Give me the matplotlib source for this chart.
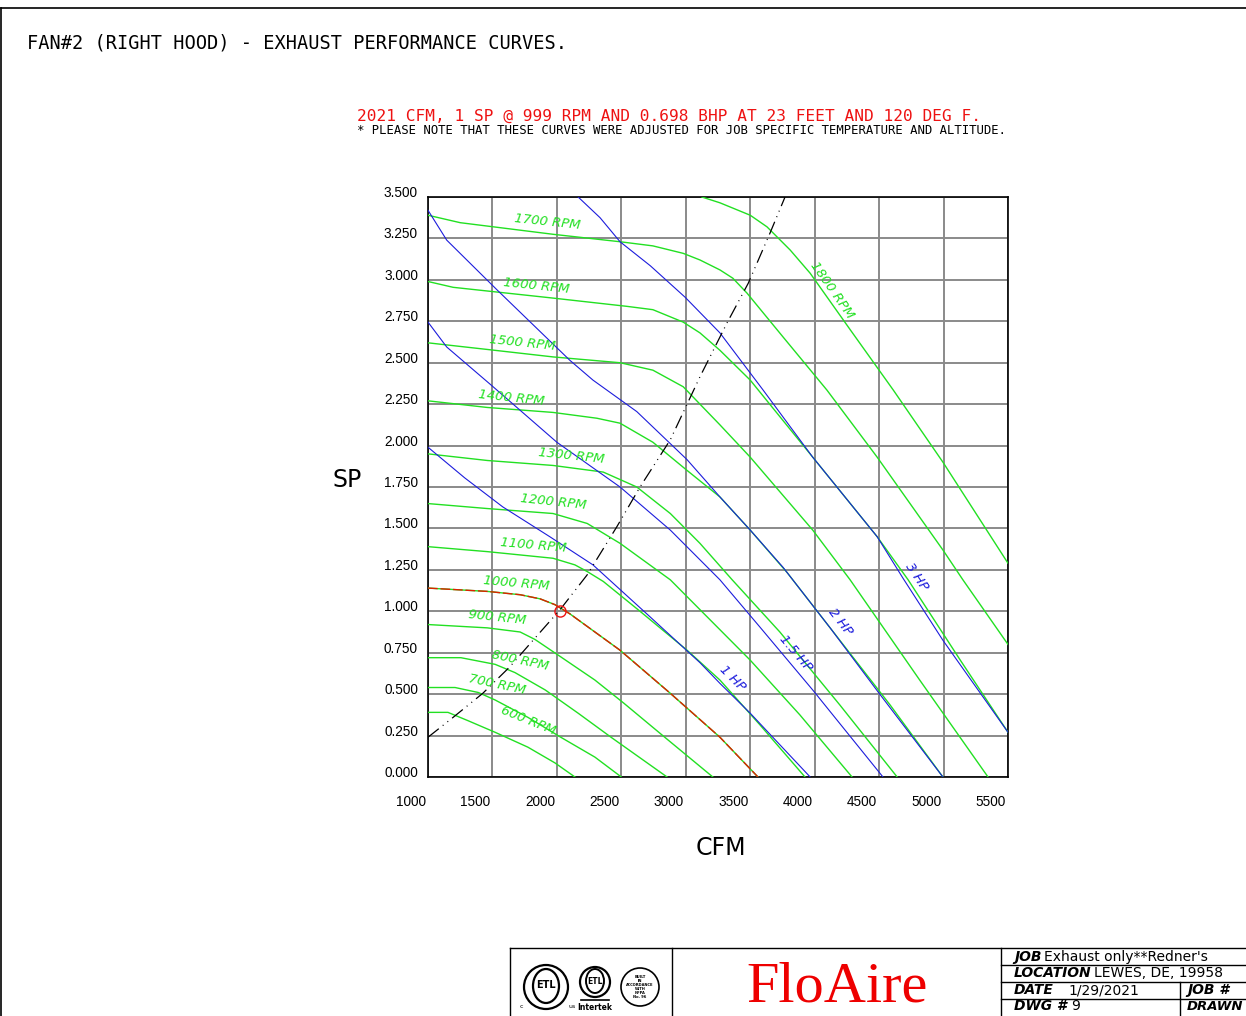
import matplotlib
matplotlib.use("Agg")
import matplotlib.pyplot as plt
from matplotlib.patches import Circle, Ellipse
from matplotlib.transforms import offset_copy

# fan curves (CFM, SP)
rpm_600_cfm = [1000, 1155, 1310, 1520, 1775, 1985, 2140]
rpm_600_sp = [0.39, 0.39, 0.34, 0.27, 0.18, 0.085, 0.0]
rpm_700_cfm = [1000, 1210, 1390, 1520, 1775, 2030, 2295, 2500]
rpm_700_sp = [0.54, 0.54, 0.51, 0.465, 0.36, 0.24, 0.12, 0.0]
rpm_800_cfm = [1000, 1255, 1520, 1675, 1910, 2165, 2420, 2855]
rpm_800_sp = [0.72, 0.72, 0.68, 0.63, 0.525, 0.385, 0.24, 0.0]
rpm_900_cfm = [1000, 1460, 1715, 1830, 2030, 2295, 2520, 2860, 3210]
rpm_900_sp = [0.92, 0.90, 0.875, 0.83, 0.725, 0.585, 0.445, 0.225, 0.0]
rpm_1000_cfm = [1000, 1460, 1715, 1870, 1985, 2100, 2490, 2880, 3265, 3560]
rpm_1000_sp = [1.14, 1.12, 1.10, 1.075, 1.04, 0.985, 0.765, 0.505, 0.24, 0.0]
rpm_1100_cfm = [1000, 1460, 1970, 2140, 2235, 2360, 2645, 3010, 3265, 3575, 3925]
rpm_1100_sp = [1.39, 1.36, 1.32, 1.28, 1.24, 1.18, 1.0, 0.765, 0.585, 0.315, 0.0]
rpm_1200_cfm = [1000, 1460, 1970, 2235, 2490, 2880, 3110, 3500, 3885, 4290]
rpm_1200_sp = [1.65, 1.62, 1.59, 1.53, 1.41, 1.19, 1.01, 0.705, 0.375, 0.0]
rpm_1300_cfm = [1000, 1460, 1970, 2360, 2620, 2880, 3110, 3360, 3730, 4195, 4640]
rpm_1300_sp = [1.95, 1.91, 1.88, 1.84, 1.75, 1.59, 1.41, 1.19, 0.875, 0.435, 0.0]
rpm_1400_cfm = [1000, 1460, 1970, 2310, 2490, 2745, 3010, 3265, 3500, 3785, 4195, 4585, 4995]
rpm_1400_sp = [2.27, 2.23, 2.20, 2.165, 2.135, 2.02, 1.85, 1.69, 1.49, 1.235, 0.825, 0.435, 0.0]
rpm_1500_cfm = [1000, 1460, 1970, 2490, 2745, 2980, 3110, 3265, 3500, 3985, 4275, 4815, 5345]
rpm_1500_sp = [2.62, 2.58, 2.535, 2.50, 2.455, 2.355, 2.25, 2.125, 1.93, 1.49, 1.19, 0.585, 0.0]
rpm_1600_cfm = [1000, 1195, 1970, 2545, 2745, 2980, 3110, 3265, 3500, 3985, 4485, 4725, 5130, 5500]
rpm_1600_sp = [2.99, 2.955, 2.89, 2.84, 2.82, 2.745, 2.68, 2.575, 2.395, 1.93, 1.45, 1.19, 0.705, 0.27]
rpm_1700_cfm = [1000, 1250, 1970, 2490, 2745, 2980, 3110, 3265, 3365, 3475, 3755, 4095, 4485, 4995, 5150, 5500]
rpm_1700_sp = [3.39, 3.345, 3.275, 3.23, 3.205, 3.16, 3.12, 3.06, 3.01, 2.92, 2.655, 2.335, 1.93, 1.37, 1.19, 0.80]
rpm_1800_cfm = [3125, 3265, 3500, 3630, 3810, 3965, 4275, 4610, 4995, 5500]
rpm_1800_sp = [3.5, 3.465, 3.39, 3.32, 3.18, 3.04, 2.70, 2.335, 1.90, 1.29]

# brake horsepower lines
hp_1_cfm = [1000, 1285, 1580, 1945, 2280, 2725, 3110, 3265, 3500, 3965]
hp_1_sp = [1.99, 1.805, 1.63, 1.45, 1.28, 0.965, 0.69, 0.565, 0.385, 0.0]
hp_15_cfm = [1000, 1145, 1505, 2000, 2490, 2880, 3265, 3575, 3985, 4530]
hp_15_sp = [2.745, 2.595, 2.355, 2.02, 1.75, 1.49, 1.19, 0.905, 0.525, 0.0]
hp_2_cfm = [1000, 1145, 1535, 2100, 2280, 2620, 3010, 3265, 3500, 3755, 4120, 4505, 4995]
hp_2_sp = [3.42, 3.24, 2.94, 2.515, 2.395, 2.205, 1.915, 1.69, 1.49, 1.265, 0.90, 0.50, 0.0]
hp_3_cfm = [2165, 2335, 2490, 2725, 2995, 3265, 3600, 3985, 4485, 4685, 4995, 5500]
hp_3_sp = [3.5, 3.375, 3.23, 3.085, 2.895, 2.68, 2.335, 1.93, 1.45, 1.20, 0.825, 0.27]

# system curve and operating point
sys_cfm = [1000, 1195, 1425, 1635, 1815, 2025, 2235, 2465, 2645, 2880, 3110, 3320, 3485, 3655, 3770]
sys_sp = [0.24, 0.36, 0.505, 0.665, 0.825, 1.01, 1.22, 1.51, 1.75, 2.035, 2.415, 2.74, 2.98, 3.285, 3.5]
op_cfm = 2021
op_sp = 1.0

fan_curves = [
    (rpm_600_cfm, rpm_600_sp), (rpm_700_cfm, rpm_700_sp), (rpm_800_cfm, rpm_800_sp),
    (rpm_900_cfm, rpm_900_sp), (rpm_1000_cfm, rpm_1000_sp), (rpm_1100_cfm, rpm_1100_sp),
    (rpm_1200_cfm, rpm_1200_sp), (rpm_1300_cfm, rpm_1300_sp), (rpm_1400_cfm, rpm_1400_sp),
    (rpm_1500_cfm, rpm_1500_sp), (rpm_1600_cfm, rpm_1600_sp), (rpm_1700_cfm, rpm_1700_sp),
    (rpm_1800_cfm, rpm_1800_sp),
]
hp_lines = [(hp_1_cfm, hp_1_sp), (hp_15_cfm, hp_15_sp), (hp_2_cfm, hp_2_sp), (hp_3_cfm, hp_3_sp)]

x_ticks = [1000, 1500, 2000, 2500, 3000, 3500, 4000, 4500, 5000, 5500]
y_ticks = [0.0, 0.25, 0.5, 0.75, 1.0, 1.25, 1.5, 1.75, 2.0, 2.25, 2.5, 2.75, 3.0, 3.25, 3.5]

rpm_labels = ["600 RPM", "700 RPM", "800 RPM", "900 RPM", "1000 RPM", "1100 RPM", "1200 RPM",
              "1300 RPM", "1400 RPM", "1500 RPM", "1600 RPM", "1700 RPM", "1800 RPM"]
hp_labels = ["1 HP", "1.5 HP", "2 HP", "3 HP"]

GREEN = "#22e022"
BLUE = "#1c1cdc"
RED = "#ee1111"

W, H = 1246, 1016
fig = plt.figure(figsize=(W / 100, H / 100), dpi=100)

# page furniture in pixel coordinates
bg = fig.add_axes([0, 0, 1, 1])
bg.set_xlim(0, W)
bg.set_ylim(H, 0)
bg.axis("off")
bg.plot([1, W], [8, 8], color="black", lw=1.2)
bg.plot([1, 1], [8, H], color="black", lw=1.2)

mono = "DejaVu Sans Mono"
bg.text(27, 43, "FAN#2 (RIGHT HOOD) - EXHAUST PERFORMANCE CURVES.", family=mono,
        fontsize=13.4, va="center", ha="left")
bg.text(357, 116, "2021 CFM, 1 SP @ 999 RPM AND 0.698 BHP AT 23 FEET AND 120 DEG F.",
        family=mono, fontsize=11.6, color=RED, va="center", ha="left")
bg.text(357, 131, "* PLEASE NOTE THAT THESE CURVES WERE ADJUSTED FOR JOB SPECIFIC TEMPERATURE AND ALTITUDE.",
        family=mono, fontsize=8.85, va="center", ha="left")
bg.text(347, 480, "SP", fontsize=17, va="center", ha="center")
bg.text(721, 848, "CFM", fontsize=17, va="center", ha="center")

# title block
lw_tb = 1.0
bg.plot([510, W], [948, 948], color="black", lw=lw_tb)
bg.plot([510, 510], [948, H], color="black", lw=lw_tb)
bg.plot([672, 672], [948, H], color="black", lw=lw_tb)
bg.plot([1001, 1001], [948, H], color="black", lw=lw_tb)
for yy in [965, 982, 999]:
    bg.plot([1001, W], [yy, yy], color="black", lw=lw_tb)
bg.plot([1180, 1180], [982, H], color="black", lw=lw_tb)

bg.add_patch(Circle((546, 987), 22, fill=False, lw=1.6, color="black"))
bg.add_patch(Ellipse((546, 986), 26, 34, fill=False, lw=1.6, color="black"))
bg.text(546, 985, "ETL", fontsize=7, fontweight="bold", ha="center", va="center")
bg.text(521, 1006, "c", fontsize=4.5, ha="center", va="center")
bg.text(572, 1006, "us", fontsize=4.5, ha="center", va="center")
bg.add_patch(Circle((595, 982), 15, fill=False, lw=1.6, color="black"))
bg.add_patch(Ellipse((595, 981), 18, 24, fill=False, lw=1.4, color="black"))
bg.text(595, 981, "ETL", fontsize=5.5, fontweight="bold", ha="center", va="center")
bg.plot([581, 609], [1000, 1000], color="black", lw=1.2)
bg.text(595, 1007, "Intertek", fontsize=5.5, fontweight="bold", ha="center", va="center")
bg.add_patch(Circle((640, 987), 19, fill=False, lw=1.2, color="black"))
bg.text(640, 987, "BUILT\nIN\nACCORDANCE\nWITH\nNFPA\nNo. 96", fontsize=2.6,
        fontweight="bold", ha="center", va="center", linespacing=1.0)

bg.text(837, 1001, "FloAire", family="Liberation Serif", fontsize=42, color="#ee0000",
        ha="center", va="baseline")

tb_size = 10
bg.text(1014, 957, "JOB", fontsize=tb_size, style="italic", fontweight="bold", va="center")
bg.text(1044, 957, "Exhaust only**Redner's", fontsize=tb_size, va="center")
bg.text(1014, 973, "LOCATION", fontsize=tb_size, style="italic", fontweight="bold", va="center")
bg.text(1094, 973, "LEWES, DE, 19958", fontsize=tb_size, va="center")
bg.text(1014, 990, "DATE", fontsize=tb_size, style="italic", fontweight="bold", va="center")
bg.text(1068, 990, "1/29/2021", fontsize=tb_size, va="center")
bg.text(1187, 990, "JOB #", fontsize=tb_size, style="italic", fontweight="bold", va="center")
bg.text(1014, 1006, "DWG #", fontsize=tb_size, style="italic", fontweight="bold", va="center")
bg.text(1071, 1006, "9", fontsize=tb_size, va="center")
bg.text(1187, 1006, "DRAWN", fontsize=tb_size - 0.5, style="italic", fontweight="bold", va="center")

# chart
ax = fig.add_axes([428 / W, 1 - 777 / H, 580 / W, 580 / H])
ax.set_xlim(1000, 5500)
ax.set_ylim(0, 3.5)
ax.set_xticks(x_ticks)
ax.set_yticks(y_ticks)
ax.tick_params(length=0, labelbottom=False, labelleft=False)
ax.grid(True, color="#8a8a8a", lw=1.4)
for sp in ax.spines.values():
    sp.set_color("black")
    sp.set_linewidth(1.2)

for cfm, sp in fan_curves:
    ax.plot(cfm, sp, color=GREEN, lw=1.0, zorder=3, solid_joinstyle="round")
ax.plot(rpm_1000_cfm, rpm_1000_sp, color="#dd2200", lw=1.0, dashes=(7, 2), zorder=4)
for cfm, sp in hp_lines:
    ax.plot(cfm, sp, color=BLUE, lw=0.8, zorder=3, solid_joinstyle="round")
ax.plot(sys_cfm, sys_sp, color="black", lw=0.9, dashes=(11, 4, 0.8, 4, 0.8, 4), zorder=5)
ax.plot([op_cfm], [op_sp], marker="o", ms=8, mfc="none", mec=RED, mew=1.0, zorder=6)

xlab_tr = offset_copy(ax.get_xaxis_transform(), fig=fig, x=-17, y=-25, units="dots")
for x in x_ticks:
    ax.text(x, 0, f"{x}", transform=xlab_tr, ha="center", va="center",
            family="Liberation Sans", fontsize=9.8, clip_on=False)
ylab_tr = offset_copy(ax.get_yaxis_transform(), fig=fig, x=-10, y=4, units="dots")
for y in y_ticks:
    ax.text(0, y, f"{y:.3f}", transform=ylab_tr, ha="right", va="center",
            family="Liberation Sans", fontsize=9.8, clip_on=False)

# curve labels: (x, y, rotation)
rpm_label_pos = [
    (1775, 0.34, -22), (1535, 0.555, -12), (1715, 0.705, -12), (1535, 0.96, -6),
    (1685, 1.17, -5), (1820, 1.40, -5), (1970, 1.66, -6), (2110, 1.94, -6),
    (1645, 2.29, -6), (1735, 2.62, -6), (1840, 2.965, -6), (1930, 3.35, -6),
    (4135, 2.935, -55),
]
for (x, y, rot), txt in zip(rpm_label_pos, rpm_labels):
    ax.text(x, y, txt, color=GREEN, fontsize=9.5, style="italic", rotation=rot,
            rotation_mode="anchor", ha="center", va="center", zorder=7)

hp_label_pos = [(3360, 0.597, -45), (3850, 0.748, -50), (4200, 0.935, -52), (4790, 1.207, -56)]
for (x, y, rot), txt in zip(hp_label_pos, hp_labels):
    ax.text(x, y, txt, color=BLUE, fontsize=9.5, style="italic", rotation=rot,
            rotation_mode="anchor", ha="center", va="center", zorder=7)

fig.savefig("out.png", dpi=100)
